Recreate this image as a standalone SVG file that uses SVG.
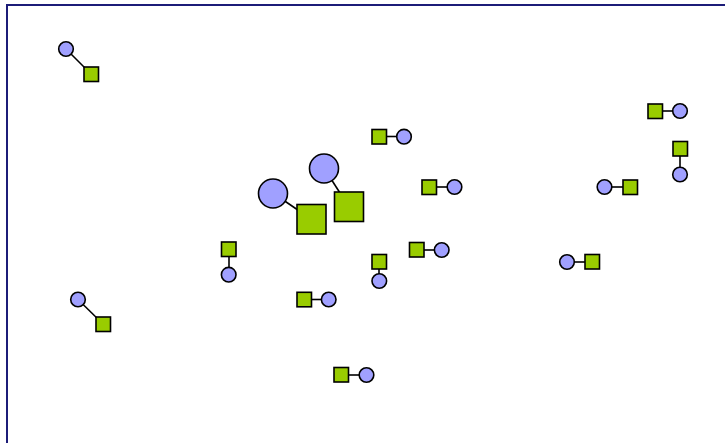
<svg xmlns="http://www.w3.org/2000/svg" width="725" height="443" viewBox="0 0 725 443">
<style>
.c{fill:#a0a0ff;stroke:#000;stroke-width:1.6}
.s{fill:#99cc00;stroke:#000;stroke-width:1.6}
.e{stroke:#000;stroke-width:1.6;fill:none}
</style>
<rect x="0" y="0" width="725" height="443" fill="#fff"/>
<rect x="7" y="5" width="740" height="460" fill="none" stroke="#1c1c78" stroke-width="2"/>
<g id="connectors">
<line class="e" x1="66" y1="49" x2="91" y2="74"/>
<line class="e" x1="273" y1="193" x2="311" y2="219"/>
<line class="e" x1="324" y1="168" x2="349" y2="207"/>
<line class="e" x1="379" y1="136.5" x2="404" y2="136.5"/>
<line class="e" x1="429" y1="187" x2="454" y2="187"/>
<line class="e" x1="655" y1="111" x2="680" y2="111"/>
<line class="e" x1="680" y1="149" x2="680" y2="174"/>
<line class="e" x1="604.5" y1="187" x2="630" y2="187"/>
<line class="e" x1="229" y1="249" x2="229" y2="274.5"/>
<line class="e" x1="379" y1="262" x2="379" y2="281"/>
<line class="e" x1="417" y1="250" x2="442" y2="250"/>
<line class="e" x1="304" y1="299.5" x2="329" y2="299.5"/>
<line class="e" x1="567" y1="262" x2="592" y2="262"/>
<line class="e" x1="78" y1="299.5" x2="103" y2="324"/>
<line class="e" x1="341" y1="375" x2="366" y2="375"/>
</g>
<g id="n1"><circle class="c" cx="66" cy="49" r="7.3"/><rect class="s" x="84" y="67" width="14.5" height="14.5"/></g>
<g id="n2"><circle class="c" cx="273" cy="193.5" r="14.5"/><rect class="s" x="297" y="204.5" width="29" height="29.5"/></g>
<g id="n3"><circle class="c" cx="324" cy="168.5" r="14.5"/><rect class="s" x="334.5" y="192" width="29" height="29.5"/></g>
<g id="n4"><rect class="s" x="372" y="129.5" width="14.5" height="14.5"/><circle class="c" cx="404" cy="136.7" r="7.3"/></g>
<g id="n5"><rect class="s" x="422" y="180" width="14.5" height="14.5"/><circle class="c" cx="454.5" cy="187" r="7.3"/></g>
<g id="n6"><rect class="s" x="648" y="104" width="14.5" height="14.5"/><circle class="c" cx="680" cy="111" r="7.3"/></g>
<g id="n7"><rect class="s" x="673" y="141.5" width="14.5" height="14.5"/><circle class="c" cx="680" cy="174.5" r="7.3"/></g>
<g id="n8"><circle class="c" cx="604.5" cy="187" r="7.3"/><rect class="s" x="623" y="180" width="14.5" height="14.5"/></g>
<g id="n9"><rect class="s" x="221.5" y="242" width="14.5" height="14.5"/><circle class="c" cx="228.7" cy="274.7" r="7.3"/></g>
<g id="n10"><rect class="s" x="372" y="254.5" width="14.5" height="14.5"/><circle class="c" cx="379.3" cy="281" r="7.3"/></g>
<g id="n11"><rect class="s" x="409.5" y="242.5" width="14.5" height="14.5"/><circle class="c" cx="441.7" cy="250" r="7.3"/></g>
<g id="n12"><rect class="s" x="297" y="292.3" width="14.5" height="14.5"/><circle class="c" cx="328.7" cy="299.5" r="7.3"/></g>
<g id="n13"><circle class="c" cx="567" cy="262" r="7.3"/><rect class="s" x="585" y="254.5" width="14.5" height="14.5"/></g>
<g id="n14"><circle class="c" cx="78" cy="299.5" r="7.3"/><rect class="s" x="96" y="317" width="14.5" height="14.5"/></g>
<g id="n15"><rect class="s" x="334" y="367.5" width="14.5" height="14.5"/><circle class="c" cx="366.5" cy="375" r="7.3"/></g>
</svg>
